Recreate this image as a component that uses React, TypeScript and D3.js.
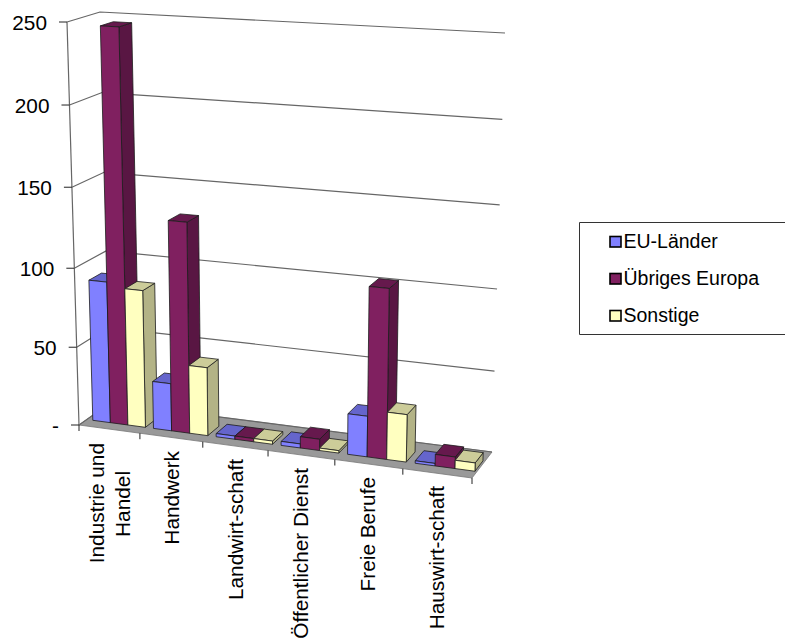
import React from "react";
import * as d3 from "d3";

const categories = [["Industrie und", "Handel"], ["Handwerk"], ["Landwirt-schaft"], ["Öffentlicher Dienst"], ["Freie Berufe"], ["Hauswirt-schaft"]];
const euLaender = [90, 30, 2, 2.5, 25, 1.5];
const uebrigesEuropa = [247, 132, 2, 7, 104, 7];
const sonstige = [87, 43, 2, 1.5, 29, 5];
const seriesNames = ["EU-Länder", "Übriges Europa", "Sonstige"];
const tickValues = [0, 50, 100, 150, 200, 250];
const tickLabels = ["-", "50", "100", "150", "200", "250"];
const catStops = [0, 0.155, 0.315, 0.481, 0.651, 0.824, 1];
const valueStops = [0, 0.193, 0.389, 0.59, 0.794, 1];
const labelTops = [[443, 471], [451], [459], [468], [477], [486]];
const labelX = [[104, 129.5], [179], [243], [308], [375], [444]];

const palette = [
  { front: "#8080ff", side: "#5a5ab4", top: "#6565cc" },
  { front: "#802060", side: "#591643", top: "#66194d" },
  { front: "#ffffc0", side: "#b3b386", top: "#cccc99" },
];

type P = [number, number];
const FBL: P = [79, 425], FBR: P = [472, 478], BBL: P = [110, 403], BBR: P = [492, 452];
const FTL: P = [67, 22], FTR: P = [483, 46], BTL: P = [100, 12], BTR: P = [505, 33];
const mix = (a: P, b: P, t: number): P => [a[0] + (b[0] - a[0]) * t, a[1] + (b[1] - a[1]) * t];
const project = (u: number, d: number, f: number): P => {
  const bottom = mix(mix(FBL, FBR, u), mix(BBL, BBR, u), d);
  const top = mix(mix(FTL, FTR, u), mix(BTL, BTR, u), d);
  return mix(bottom, top, f);
};
const catScale = d3.scaleLinear().domain(d3.range(0, 7)).range(catStops);
const valScale = d3.scaleLinear().domain(tickValues).range(valueStops);
const line = d3.line<P>();
const poly = (pts: P[]) => line(pts) + "Z";

const font = "'Liberation Sans', Arial, sans-serif";
const axisSize = 20.8;
const legendSize = 19.5;

export default function App() {
  const all = [euLaender, uebrigesEuropa, sonstige];
  const bars: React.ReactNode[] = [];
  categories.forEach((_, c) => {
    all.forEach((vals, s) => {
      const u0 = catScale(c + 0.1 + s * 0.29), u1 = catScale(c + 0.1 + (s + 1) * 0.29);
      const d0 = 0.25, d1 = 0.65;
      const f = valScale(vals[c]);
      const col = palette[s];
      const st = { stroke: "#1c1c1c", strokeWidth: 0.8, strokeLinejoin: "round" as const };
      bars.push(
        <g key={c + "-" + s}>
          <path d={poly([project(u1, d0, 0), project(u1, d1, 0), project(u1, d1, f), project(u1, d0, f)])} fill={col.side} {...st} />
          <path d={poly([project(u0, d0, f), project(u1, d0, f), project(u1, d1, f), project(u0, d1, f)])} fill={col.top} {...st} />
          <path d={poly([project(u0, d0, 0), project(u1, d0, 0), project(u1, d0, f), project(u0, d0, f)])} fill={col.front} {...st} />
        </g>
      );
    });
  });
  return (
    <svg width={785} height={644} style={{ position: "absolute", left: 0, top: 0, background: "#fff" }} fontFamily={font}>
      <path d={poly([FBL, FBR, BBR, BBL])} fill="#999999" stroke="#777" strokeWidth={0.8} />
      {tickValues.map((t) => {
        const f = valScale(t);
        const a = project(0, 0, f), b = project(0, 1, f), e = project(1, 1, f);
        return <path key={t} d={line([a, b, e])!} fill="none" stroke="#666" strokeWidth={1.2} />;
      })}
      <path d={line([project(0, 0, 0), project(0, 0, 1)])!} fill="none" stroke="#666" strokeWidth={1.2} />
      {tickValues.map((t, i) => {
        const p = project(0, 0, valScale(t));
        return (
          <g key={t}>
            <line x1={p[0] - 8} x2={p[0]} y1={p[1]} y2={p[1]} stroke="#222" strokeWidth={1} />
            <text x={p[0] - 20} y={p[1] + 8} textAnchor="end" fontSize={axisSize} fill="#000">{tickLabels[i]}</text>
          </g>
        );
      })}
      {d3.range(0, 7).map((i) => {
        const p = project(catScale(i), 0, 0);
        return <line key={i} x1={p[0]} x2={p[0]} y1={p[1]} y2={p[1] + 6} stroke="#222" strokeWidth={1} />;
      })}
      {bars}
      {categories.map((lines, c) =>
        lines.map((t, j) => (
          <text key={c + "-" + j} transform={`translate(${labelX[c][j]},${labelTops[c][j]}) rotate(-90)`} textAnchor="end" fontSize={axisSize} fill="#000">{t}</text>
        ))
      )}
      <path d="M785,222.5H579.5V334.5H785" fill="none" stroke="#333" strokeWidth={1} />
      {seriesNames.map((n, i) => {
        const y = 241.5 + i * 37;
        return (
          <g key={n}>
            <rect x={610} y={y - 5} width={11} height={10.5} fill={palette[i].front} stroke="#000" strokeWidth={1.6} />
            <text x={623.5} y={y + 6.5} fontSize={legendSize} fill="#000">{n}</text>
          </g>
        );
      })}
    </svg>
  );
}
